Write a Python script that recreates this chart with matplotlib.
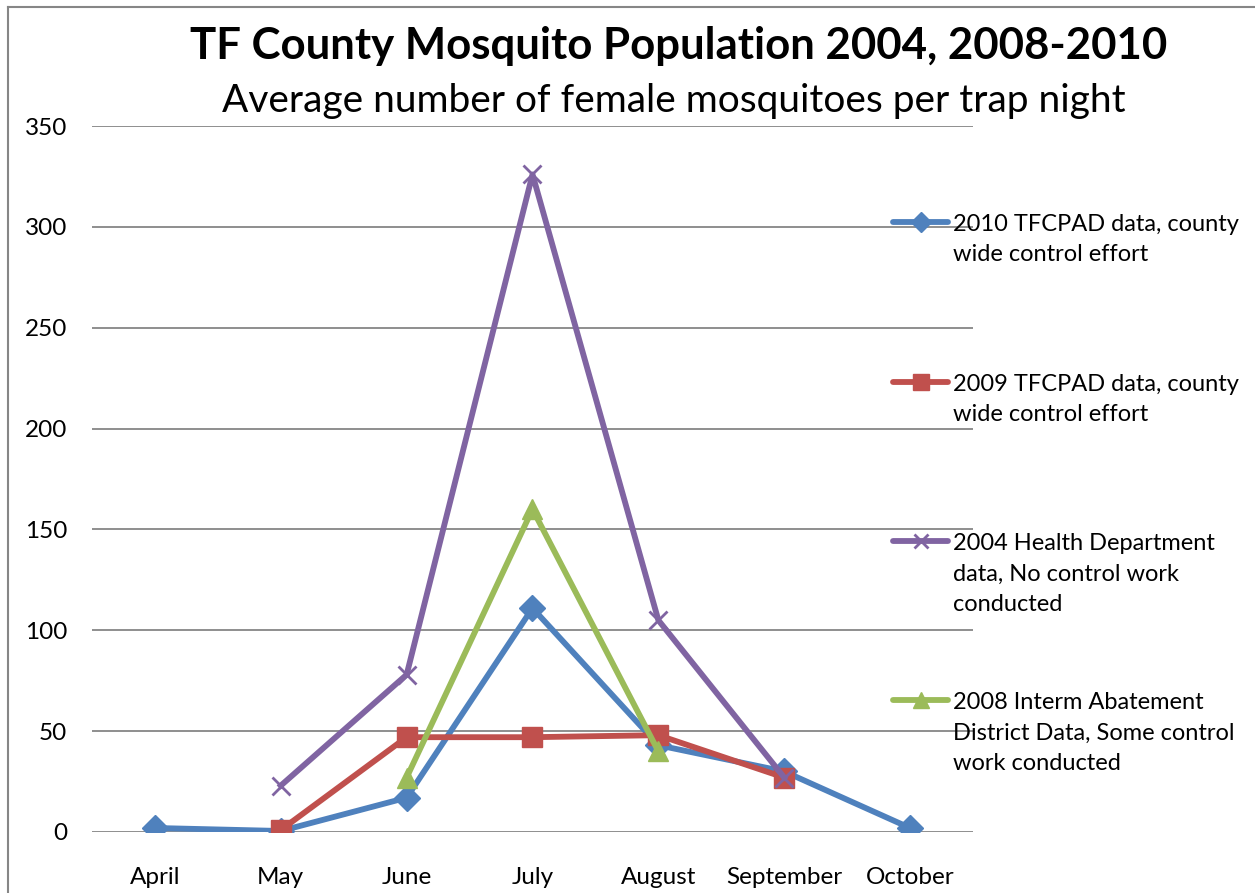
import matplotlib.pyplot as plt
from matplotlib.lines import Line2D

# datos
meses = ['April', 'May', 'June', 'July', 'August', 'September', 'October']
d2010 = [2, 0.5, 17, 111, 43, 30, 2]
d2009 = [None, 1, 47, 47, 48, 27, None]
d2004 = [None, 23, 78, 326, 105, 27, None]
d2008 = [None, None, 27, 160, 40, None, None]

etiquetas = ['2010 TFCPAD data, county\nwide control effort',
             '2009 TFCPAD data, county\nwide control effort',
             '2004 Health Department\ndata, No control work\nconducted',
             '2008 Interm Abatement\nDistrict Data, Some control\nwork conducted']

colores = ['#4F81BD', '#C0504D', '#8064A2', '#9BBB59']
marcadores = [('D', 13, 1), ('s', 15, 1), ('x', 13, 2), ('^', 15, 1)]

plt.rcParams['font.family'] = ['Lato', 'DejaVu Sans']

W, H = 1255, 893
fig = plt.figure(figsize=(W / 100, H / 100), dpi=100)
ax = fig.add_axes([92 / W, 1 - 832 / H, (973 - 92) / W, (832 - 126) / H])

x = list(range(len(meses)))
series = [d2010, d2009, d2004, d2008]
for i, (datos, col, (m, ms, mew)) in enumerate(zip(series, colores, marcadores)):
    xs = [xi for xi, v in zip(x, datos) if v is not None]
    ys = [v for v in datos if v is not None]
    ax.plot(xs, ys, color=col, lw=4.2, marker=m, markersize=ms,
            markeredgewidth=mew, markeredgecolor=col, zorder=3 + i,
            solid_joinstyle='round')

ax.set_xlim(-0.5, len(meses) - 0.5)
ax.set_ylim(0, 350)
ax.set_yticks(range(0, 351, 50))
ax.set_xticks(x)
ax.set_xticklabels(meses)
ax.tick_params(axis='both', length=0, colors='black')
ax.tick_params(axis='y', pad=18, labelsize=17.5)
ax.tick_params(axis='x', pad=25, labelsize=17.5)
for s in ax.spines.values():
    s.set_visible(False)
ax.yaxis.grid(True, color='#868686', lw=1.3)
ax.set_axisbelow(True)

# titulo y subtitulo
fig.text(679 / W, 1 - 46 / H, 'TF County Mosquito Population 2004, 2008-2010',
         ha='center', va='center', fontsize=31.5, fontweight='bold')
fig.text(674 / W, 1 - 101 / H, 'Average number of female mosquitoes per trap night',
         ha='center', va='center', fontsize=28)

# leyenda manual
ys_leyenda = [222, 382, 541, 700]
for yl, col, (m, ms, mew), txt in zip(ys_leyenda, colores, marcadores, etiquetas):
    fy = 1 - yl / H
    fig.add_artist(Line2D([893 / W, 948 / W], [fy, fy], color=col, lw=4.2,
                          solid_capstyle='round'))
    fig.add_artist(Line2D([920.5 / W], [fy], color=col, marker=m,
                          markersize=ms * 0.75, markeredgewidth=mew,
                          markeredgecolor=col))
    fig.text(953 / W, fy + 8 / H, txt, ha='left', va='top', fontsize=17,
             linespacing=1.55)

# borde del grafico
gris = '#868686'
fig.add_artist(Line2D([8 / W, 8 / W], [0, 1 - 7 / H], color=gris, lw=1.5))
fig.add_artist(Line2D([8 / W, 1], [1 - 7 / H, 1 - 7 / H], color=gris, lw=1.5))

fig.savefig('out.png', dpi=100)
